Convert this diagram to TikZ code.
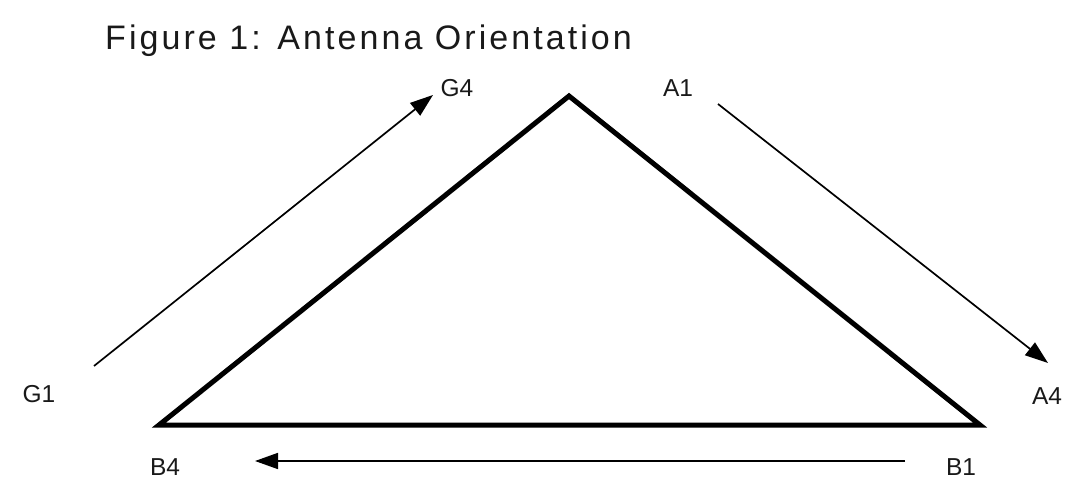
\documentclass[tikz,border=0pt]{standalone}
\usepackage{fontspec}
\setmainfont{Liberation Sans}
\newfontfamily\titlefont[LetterSpace=9]{Liberation Sans}
\usetikzlibrary{arrows.meta}
\tikzset{
  lbl/.style={inner sep=0pt, font=\fontsize{24.5}{28}\selectfont, text=black!90},
  tri/.style={line width=5pt, line join=miter},
  arr/.style={line width=1.7pt, -{Triangle[length=23pt,width=16pt]}}
}
\begin{document}
\begin{tikzpicture}[x=1pt,y=-1pt]
\useasboundingbox (0,0) rectangle (1066,486);
\node[anchor=base west, inner sep=0pt, text=black!90, font=\titlefont\fontsize{34}{40}\selectfont] (title) at (105,50) {Figure 1: Antenna Orientation};
\coordinate (apex) at (569,96);
\coordinate (left) at (159,425);
\coordinate (right) at (980,425);
\draw[tri] (apex) -- (right) -- (left) -- cycle;
\node[lbl] (G1) at (39,394) {G1};
\node[lbl] (G4) at (457,88) {G4};
\node[lbl] (A1) at (678,88) {A1};
\node[lbl] (A4) at (1047,396) {A4};
\node[lbl] (B4) at (165,467) {B4};
\node[lbl] (B1) at (961,467) {B1};
\coordinate (g1t) at (94,366);
\coordinate (g4h) at (433,95);
\coordinate (a1t) at (718,104);
\coordinate (a4h) at (1048,363);
\coordinate (b1t) at (905,461);
\coordinate (b4h) at (255,461);
\draw[arr] (g1t) -- (g4h);
\draw[arr] (a1t) -- (a4h);
\draw[arr] (b1t) -- (b4h);
\end{tikzpicture}
\end{document}
